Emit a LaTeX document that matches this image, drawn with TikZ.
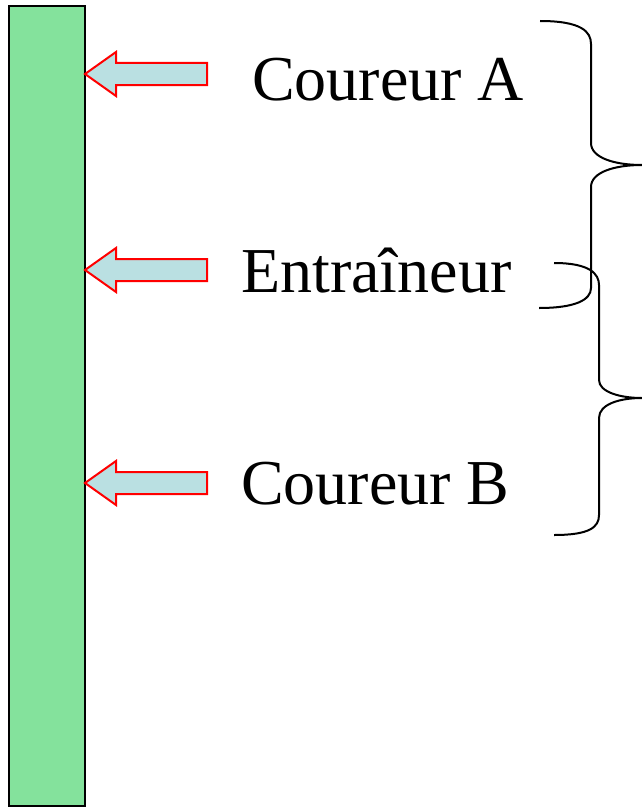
\documentclass[tikz,border=0pt]{standalone}
\usepackage{fontspec}
\setmainfont{Liberation Serif}
\definecolor{bargreen}{RGB}{132,226,156}
\definecolor{arrowblue}{RGB}{186,224,226}
\tikzset{
  bar/.style={draw=black, fill=bargreen, line width=2pt},
  bigarrow/.style={draw=red, fill=arrowblue, line width=2pt, line join=miter},
  label/.style={font=\fontsize{64}{72}\selectfont, anchor=base west, inner sep=0pt},
  brace/.style={draw=black, line width=2pt}
}
\begin{document}
\begin{tikzpicture}[x=1pt,y=-1pt]
\useasboundingbox (0,0) rectangle (642,808);
\draw[bar] (9,6) rectangle (85,806);
\coordinate (barA) at (85,74);
\coordinate (barE) at (85,270);
\coordinate (barB) at (85,483);
\foreach \c/\y in {barA/74, barE/270, barB/483}{
  \draw[bigarrow] (\c) -- (116,\y-22) -- (116,\y-11) -- (207,\y-11) -- (207,\y+11) -- (116,\y+11) -- (116,\y+22) -- cycle;
}
\node[label] (ca) at (252,100) {Coureur A};
\node[label] (en) at (241,292) {Entraîneur};
\node[label] (cb) at (241,504) {Coureur B};
\draw[brace] (540,21) .. controls (582,21) and (591,32) .. (591,44) -- (591,143)
  .. controls (591,158) and (615,165) .. (642,165)
  .. controls (615,165) and (591,172) .. (591,187) -- (591,288)
  .. controls (591,300) and (575,308) .. (539,308);
\draw[brace] (554,263) .. controls (590,263) and (599,274) .. (599,285) -- (599,380)
  .. controls (599,392) and (620,398) .. (642,398)
  .. controls (620,398) and (599,404) .. (599,418) -- (599,515)
  .. controls (599,527) and (590,535) .. (554,535);
\end{tikzpicture}
\end{document}
